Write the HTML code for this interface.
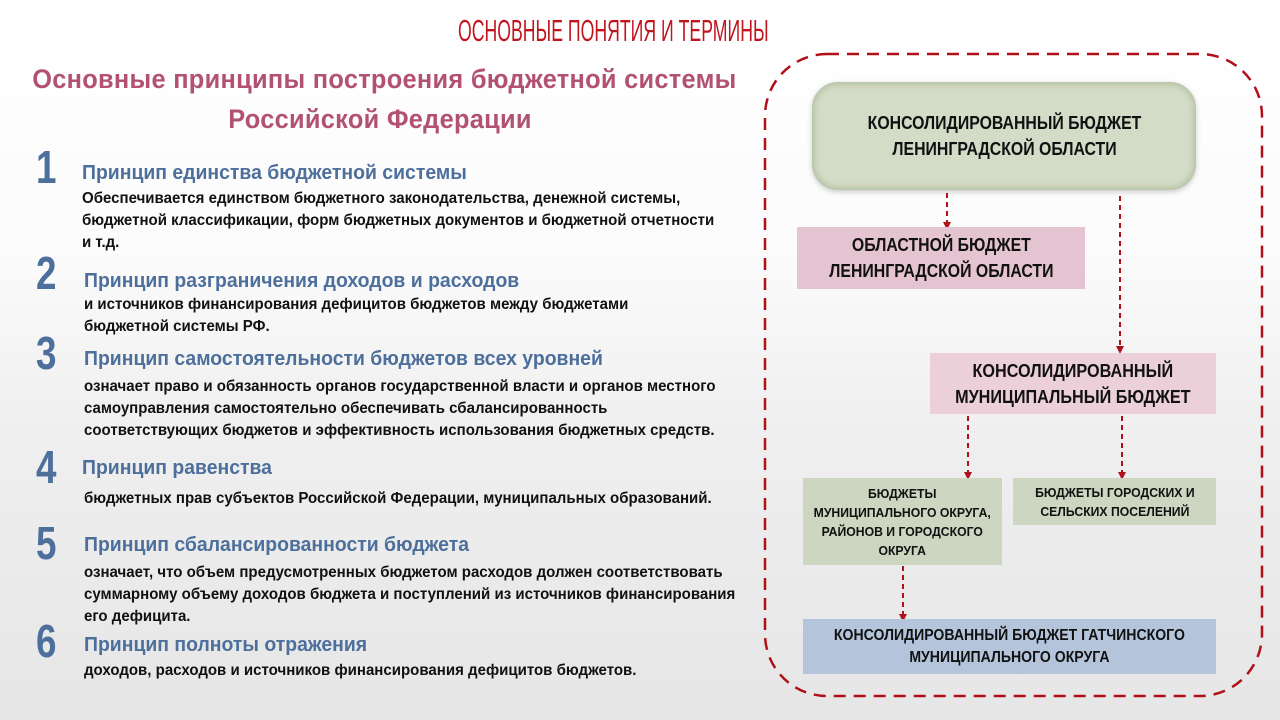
<!DOCTYPE html>
<html><head><meta charset="utf-8"><style>
*{margin:0;padding:0;box-sizing:border-box}
body{width:1280px;height:720px;overflow:hidden;position:relative;background:linear-gradient(180deg,#fff 0%,#fbfbfb 35%,#efefef 60%,#e6e6e6 100%);font-family:"Liberation Sans","Noto Sans CJK SC",sans-serif}
.a{position:absolute;white-space:nowrap}
.top{left:458px;top:13px;color:#c0151f;font-size:31px;transform:scaleX(.57);transform-origin:left top}
.t{color:#b25270;font-weight:bold;font-size:27px;letter-spacing:0.3px;text-align:center;width:740px;left:10px;transform:scaleX(.94);transform-origin:center top}
.n{color:#4d6f9c;font-weight:bold;font-size:46px;transform:scaleX(.8);transform-origin:left top}
.h{color:#4d6f9c;font-weight:bold;font-size:20px;transform:scaleX(.97);transform-origin:left top}
.b{color:#111;font-weight:bold;font-size:15.5px;line-height:22px;transform:scaleX(.97);transform-origin:left top}
.bx{position:absolute;display:flex;align-items:center;justify-content:center;text-align:center;color:#111;font-weight:bold}
.bx span{display:inline-block;white-space:nowrap}
</style></head><body>
<div class="a top">ОСНОВНЫЕ ПОНЯТИЯ И ТЕРМИНЫ</div>
<div class="a t" style="top:64px">Основные принципы построения бюджетной системы</div>
<div class="a t" style="top:104px">Российской Федерации</div>

<div class="a n" style="left:36px;top:140px">1</div>
<div class="a h" style="left:82px;top:162px">Принцип единства бюджетной системы</div>
<div class="a b" style="left:82px;top:188px">Обеспечивается единством бюджетного законодательства, денежной системы,<br>бюджетной классификации, форм бюджетных документов и бюджетной отчетности<br>и т.д.</div>

<div class="a n" style="left:36px;top:246px">2</div>
<div class="a h" style="left:84px;top:270px">Принцип разграничения доходов и расходов</div>
<div class="a b" style="left:84px;top:294px">и источников финансирования дефицитов бюджетов между бюджетами<br>бюджетной системы РФ.</div>

<div class="a n" style="left:36px;top:326px">3</div>
<div class="a h" style="left:84px;top:348px">Принцип самостоятельности бюджетов всех уровней</div>
<div class="a b" style="left:84px;top:376px">означает право и обязанность органов государственной власти и органов местного<br>самоуправления самостоятельно обеспечивать сбалансированность<br>соответствующих бюджетов и эффективность использования бюджетных средств.</div>

<div class="a n" style="left:36px;top:440px">4</div>
<div class="a h" style="left:82px;top:457px">Принцип равенства</div>
<div class="a b" style="left:84px;top:488px">бюджетных прав субъектов Российской Федерации, муниципальных образований.</div>

<div class="a n" style="left:36px;top:516px">5</div>
<div class="a h" style="left:84px;top:534px">Принцип сбалансированности бюджета</div>
<div class="a b" style="left:84px;top:562px">означает, что объем предусмотренных бюджетом расходов должен соответствовать<br>суммарному объему доходов бюджета и поступлений из источников финансирования<br>его дефицита.</div>

<div class="a n" style="left:36px;top:614px">6</div>
<div class="a h" style="left:84px;top:634px">Принцип полноты отражения</div>
<div class="a b" style="left:84px;top:660px">доходов, расходов и источников финансирования дефицитов бюджетов.</div>

<svg class="a" style="left:0;top:0" width="1280" height="720">
<rect x="765" y="54" width="497" height="642" rx="62" fill="none" stroke="#b0101a" stroke-width="2.5" stroke-dasharray="12,8"/>
<g stroke="#b0101a" stroke-width="2" stroke-dasharray="5,4" fill="none">
<line x1="947" y1="193" x2="947" y2="222"/>
<line x1="1120" y1="196" x2="1120" y2="346"/>
<line x1="968" y1="416" x2="968" y2="472"/>
<line x1="1122" y1="416" x2="1122" y2="472"/>
<line x1="903" y1="566" x2="903" y2="614"/>
</g>
<g fill="#b0101a">
<path d="M943,222 L951,222 L947,230z"/>
<path d="M1116,346 L1124,346 L1120,354z"/>
<path d="M964,472 L972,472 L968,480z"/>
<path d="M1118,472 L1126,472 L1122,480z"/>
<path d="M899,614 L907,614 L903,622z"/>
</g>
</svg>

<div class="bx" style="left:812px;top:82px;width:384px;height:108px;border-radius:26px;background:#d3dcc6;box-shadow:0 0 6px 3px #b7c4a8 inset,0 2px 6px rgba(0,0,0,.2);font-size:18px;line-height:26px"><span style="transform:scaleX(.88)">КОНСОЛИДИРОВАННЫЙ БЮДЖЕТ<br>ЛЕНИНГРАДСКОЙ ОБЛАСТИ</span></div>
<div class="bx" style="left:797px;top:227px;width:288px;height:62px;background:#e4c4d0;font-size:18px;line-height:26px"><span style="transform:scaleX(.88)">ОБЛАСТНОЙ БЮДЖЕТ<br>ЛЕНИНГРАДСКОЙ ОБЛАСТИ</span></div>
<div class="bx" style="left:930px;top:353px;width:286px;height:61px;background:#ecd0d9;font-size:18px;line-height:26px"><span style="transform:scaleX(.9)">КОНСОЛИДИРОВАННЫЙ<br>МУНИЦИПАЛЬНЫЙ БЮДЖЕТ</span></div>
<div class="bx" style="left:803px;top:478px;width:199px;height:87px;background:#cdd6c0;font-size:13px;line-height:19px"><span style="transform:scaleX(.94)">БЮДЖЕТЫ<br>МУНИЦИПАЛЬНОГО ОКРУГА,<br>РАЙОНОВ И ГОРОДСКОГО<br>ОКРУГА</span></div>
<div class="bx" style="left:1013px;top:478px;width:203px;height:47px;background:#cdd6c0;font-size:13px;line-height:19px"><span style="transform:scaleX(.94)">БЮДЖЕТЫ ГОРОДСКИХ И<br>СЕЛЬСКИХ ПОСЕЛЕНИЙ</span></div>
<div class="bx" style="left:803px;top:619px;width:413px;height:55px;background:#b4c5db;font-size:16px;line-height:22px"><span style="transform:scaleX(.88)">КОНСОЛИДИРОВАННЫЙ БЮДЖЕТ ГАТЧИНСКОГО<br>МУНИЦИПАЛЬНОГО ОКРУГА</span></div>
</body></html>
